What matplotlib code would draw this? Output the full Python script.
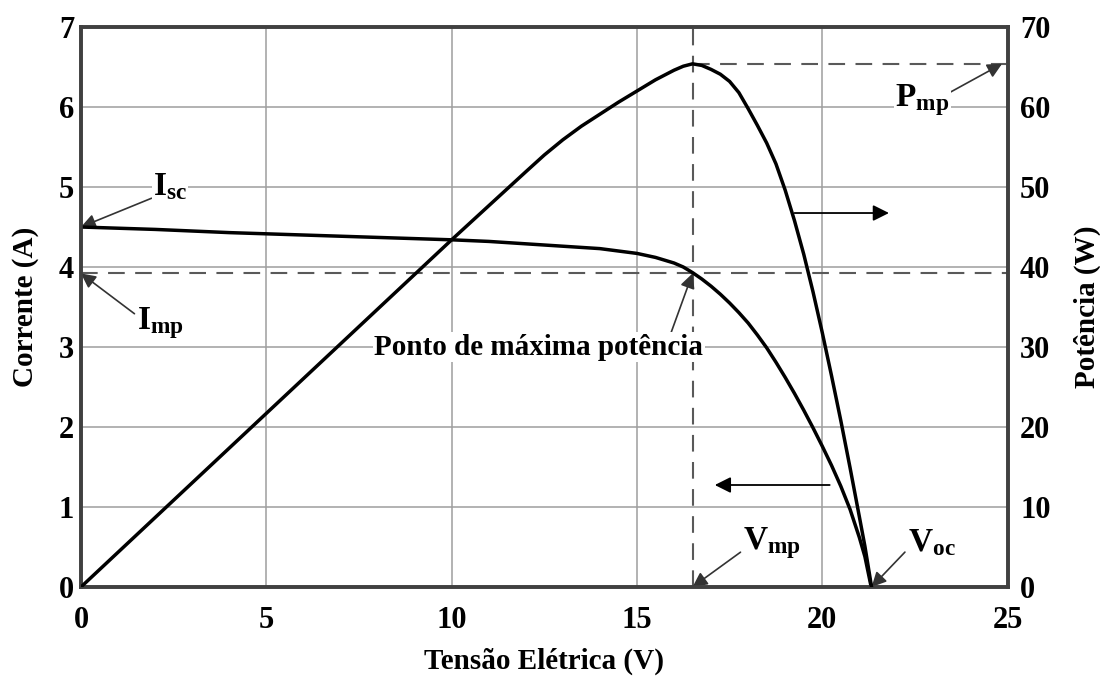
import numpy as np
import matplotlib.pyplot as plt

plt.rcParams['font.family'] = ['Liberation Serif', 'DejaVu Serif']
plt.rcParams['font.weight'] = 'bold'
plt.rcParams['mathtext.fontset'] = 'custom'
plt.rcParams['mathtext.rm'] = 'Liberation Serif:bold'
plt.rcParams['mathtext.it'] = 'Liberation Serif:bold'
plt.rcParams['mathtext.bf'] = 'Liberation Serif:bold'

# I-V curve
v_iv = [0, 2, 4, 6, 8, 10, 11, 12, 13, 13.5, 14, 14.5, 15, 15.5, 16, 16.25, 16.5, 16.75,
        17, 17.25, 17.5, 17.75, 18, 18.25, 18.5, 18.75, 19, 19.25, 19.5, 19.75, 20,
        20.25, 20.5, 20.75, 21, 21.15, 21.32]
i_iv = [4.50, 4.47, 4.43, 4.40, 4.37, 4.34, 4.32, 4.29, 4.26, 4.245, 4.23, 4.20, 4.17, 4.12, 4.05, 4.00, 3.93, 3.85,
        3.76, 3.66, 3.55, 3.43, 3.30, 3.15, 2.99, 2.81, 2.62, 2.42, 2.21, 1.99, 1.76,
        1.52, 1.26, 0.97, 0.62, 0.38, 0.0]

# P-V curve
v_pv = [0, 5, 10, 12, 12.5, 13, 13.5, 14, 14.5, 15, 15.5, 16, 16.25, 16.5, 16.75, 17,
        17.25, 17.5, 17.75, 18, 18.25, 18.5, 18.75, 19, 19.25, 19.5, 19.75, 20, 20.25,
        20.5, 20.75, 21, 21.15, 21.33]
p_pv = [0, 21.7, 43.4, 51.9, 54.0, 55.9, 57.6, 59.1, 60.6, 62.0, 63.4, 64.6, 65.1, 65.4, 65.2, 64.7,
        64.1, 63.2, 61.8, 59.8, 57.7, 55.5, 52.9, 49.6, 45.8, 41.6, 36.9, 31.8, 26.4,
        20.8, 14.9, 8.8, 5.1, 0.0]

v_mp, i_mp, p_mp, v_oc, i_sc = 16.5, 3.92, 65.4, 21.33, 4.50

fig = plt.figure(figsize=(11, 6.79), dpi=100)
ax = fig.add_axes([0.0736, 0.1355, 0.8424, 0.8247])
ax2 = ax.twinx()

ax.set_xlim(0, 25)
ax.set_ylim(0, 7)
ax2.set_ylim(0, 70)
ax.set_xticks(range(0, 26, 5))
ax.set_yticks(range(0, 8))
ax2.set_yticks(range(0, 71, 10))
ax.grid(True, color='0.62', lw=1.1)
ax.set_axisbelow(True)
ax.tick_params(length=0, labelsize=22)
ax.tick_params(axis='x', pad=14)
ax.tick_params(axis='y', pad=5)
ax2.tick_params(length=0, labelsize=22, pad=9)
for a in (ax, ax2):
    for s in a.spines.values():
        s.set_linewidth(2.6)
        s.set_color('0.25')

ax.set_xlabel('Tensão Elétrica (V)', fontsize=21, fontweight='bold')
ax.set_ylabel('Corrente (A)', fontsize=21, fontweight='bold')
ax2.set_ylabel('Potência (W)', fontsize=21, fontweight='bold', rotation=90)
ax.xaxis.set_label_coords(0.5, -0.132)
ax.yaxis.set_label_coords(-0.06, 0.5)
ax2.yaxis.set_label_coords(1.086, 0.5)
for lab in (ax.xaxis.label, ax.yaxis.label, ax2.yaxis.label):
    lab.set_va('center')

dash = dict(color='0.35', lw=1.5, dashes=(8, 5))
ax.plot([v_mp, v_mp], [0, 7], **dash)
ax.plot([0, 25], [i_mp, i_mp], **dash)
ax2.plot([v_mp, 25], [p_mp, p_mp], **dash)

ax.plot(v_iv, i_iv, color='black', lw=2.5, solid_capstyle='round', zorder=5)
ax2.plot(v_pv, p_pv, color='black', lw=2.5, solid_capstyle='round', zorder=5)

arr = dict(arrowstyle='-|>', color='0.2', lw=1.2, mutation_scale=22, shrinkA=0, shrinkB=0)
box = dict(facecolor='white', edgecolor='none', pad=1)
ax.annotate(r'$\mathrm{I_{sc}}$', xy=(0, i_sc), xytext=(2.4, 5.0), fontsize=24,
            ha='center', va='center', bbox=box, arrowprops=dict(arr, relpos=(0.1, 0.2)))
ax.annotate(r'$\mathrm{I_{mp}}$', xy=(0, i_mp), xytext=(2.15, 3.3), fontsize=24,
            ha='center', va='center', arrowprops=dict(arr, relpos=(0.0, 0.7)))
ax.annotate('Ponto de máxima potência', xy=(v_mp, i_mp), xytext=(12.35, 3.0), fontsize=21,
            ha='center', va='center', bbox=box,
            arrowprops=dict(arr, relpos=(0.9, 0.95)))
ax.annotate(r'$\mathrm{V_{mp}}$', xy=(v_mp, 0), xytext=(18.65, 0.55), fontsize=24,
            ha='center', va='center', arrowprops=dict(arr, relpos=(0.0, 0.3)))
ax.annotate(r'$\mathrm{V_{oc}}$', xy=(v_oc, 0), xytext=(22.95, 0.55), fontsize=24,
            ha='center', va='center', arrowprops=dict(arr, relpos=(0.0, 0.3)))
ax2.annotate(r'$\mathrm{P_{mp}}$', xy=(24.85, p_mp), xytext=(22.7, 60.9), fontsize=24,
             ha='center', va='center', bbox=box, arrowprops=dict(arr, relpos=(1.0, 0.7)))

dirarr = dict(arrowstyle='-|>', color='black', lw=1.3, mutation_scale=24, shrinkA=0, shrinkB=0)
ax.annotate('', xy=(21.8, 4.675), xytext=(19.25, 4.675), arrowprops=dirarr)
ax.annotate('', xy=(17.1, 1.275), xytext=(20.2, 1.275), arrowprops=dirarr)

fig.savefig('out.png', dpi=100)
